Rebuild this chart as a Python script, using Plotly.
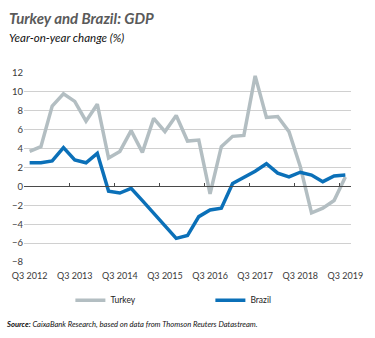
import plotly.graph_objects as go

quarters = ["Q3 2012", "Q4 2012", "Q1 2013", "Q2 2013", "Q3 2013", "Q4 2013",
            "Q1 2014", "Q2 2014", "Q3 2014", "Q4 2014", "Q1 2015", "Q2 2015",
            "Q3 2015", "Q4 2015", "Q1 2016", "Q2 2016", "Q3 2016", "Q4 2016",
            "Q1 2017", "Q2 2017", "Q3 2017", "Q4 2017", "Q1 2018", "Q2 2018",
            "Q3 2018", "Q4 2018", "Q1 2019", "Q2 2019", "Q3 2019"]

turkey = [3.7, 4.2, 8.5, 9.8, 9.0, 6.9, 8.7, 3.0, 3.7, 5.9, 3.6, 7.2, 5.8, 7.5,
          4.8, 4.9, -0.8, 4.2, 5.3, 5.4, 11.7, 7.3, 7.4, 5.8, 2.1, -2.8, -2.3,
          -1.5, 1.0]

brazil = [2.5, 2.5, 2.7, 4.1, 2.8, 2.5, 3.5, -0.5, -0.7, -0.2, -1.5, -2.8, -4.2,
          -5.5, -5.2, -3.2, -2.5, -2.3, 0.3, 0.9, 1.6, 2.4, 1.4, 1.0, 1.5, 1.2,
          0.5, 1.1, 1.2]

x_tick_labels = ["Q3 2012", "Q3 2013", "Q3 2014", "Q3 2015", "Q3 2016",
                 "Q3 2017", "Q3 2018", "Q3 2019"]
y_ticks = [-8, -6, -4, -2, 0, 2, 4, 6, 8, 10, 12]

FONT = "Lato"
TXT = "#3a3a3a"

fig = go.Figure()
fig.add_trace(go.Scatter(x=quarters, y=turkey, name="Turkey", mode="lines",
                         line=dict(color="#b3bec2", width=3.5),
                         xaxis="x", yaxis="y"))
fig.add_trace(go.Scatter(x=quarters, y=brazil, name="Brazil", mode="lines",
                         line=dict(color="#0b70b8", width=3.5),
                         xaxis="x2", yaxis="y"))

fig.update_layout(
    width=375, height=338,
    margin=dict(l=22, r=20, t=73, b=76),
    paper_bgcolor="white", plot_bgcolor="white",
    font=dict(family=FONT, color=TXT, size=9),
    showlegend=True,
    legend=dict(orientation="h", x=0.57, xanchor="center", y=-0.125, yanchor="top",
                font=dict(size=8.5, color="#222"), entrywidth=95,
                tracegroupgap=0),
    xaxis=dict(type="category", categoryorder="array", categoryarray=quarters,
               range=[-0.5, 28.5], tickmode="array", tickvals=x_tick_labels,
               ticktext=x_tick_labels, showgrid=False, showline=False,
               ticks="", ticklabelstandoff=7,
               tickfont=dict(size=9, color=TXT), zeroline=False),
    xaxis2=dict(type="category", categoryorder="array", categoryarray=quarters,
                range=[-0.5, 28.5], overlaying="x", matches="x", anchor="free",
                position=0.4, side="bottom", tickmode="array",
                tickvals=x_tick_labels, tickson="boundaries",
                showticklabels=False, ticks="inside", ticklen=3,
                tickcolor="#4a4a4a", showline=True, linecolor="#4a4a4a",
                linewidth=1, showgrid=False, zeroline=False),
    yaxis=dict(range=[-8, 12], tickmode="array", tickvals=y_ticks,
               showgrid=True, gridcolor="#d0d0d0", gridwidth=1,
               zeroline=False, showline=False, ticks="",
               tickfont=dict(size=9.5, color=TXT)),
)

fig.add_annotation(text="<b><i>Turkey and Brazil: GDP</i></b>", xref="paper",
                   yref="paper", x=0, y=1, xanchor="left", yanchor="bottom",
                   xshift=-17, yshift=44, showarrow=False,
                   font=dict(family=FONT, size=15, color="#5a5a5a"))
fig.add_annotation(text="<i>Year-on-year change (%)</i>", xref="paper",
                   yref="paper", x=0, y=1, xanchor="left", yanchor="bottom",
                   xshift=-17, yshift=27, showarrow=False,
                   font=dict(family=FONT, size=11.5, color="#111"))
fig.add_annotation(text="<i><b>Source:</b> CaixaBank Research, based on data from Thomson Reuters Datastream.</i>",
                   xref="paper", yref="paper", x=0, y=0, xanchor="left",
                   yanchor="top", xshift=-20, yshift=-55, showarrow=False,
                   font=dict(family=FONT, size=7.6, color="#111"))

fig.write_html("out.html")
